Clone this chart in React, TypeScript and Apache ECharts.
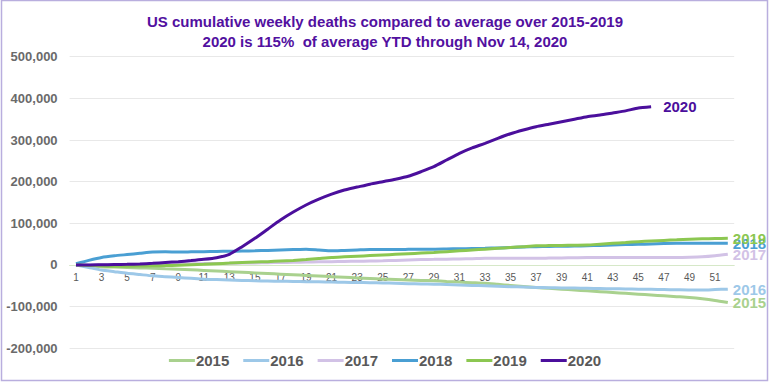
import React, { useEffect, useRef } from "react";
import * as echarts from "echarts";

const weeks: string[] = Array.from({ length: 52 }, (_, i) => String(i + 1));

const s2015 = [0, -2000, -4000, -5000, -6000, -7000, -8000, -9000, -10000, -11500, -13000, -14500, -16000, -17500, -19000, -20500, -22000, -23500, -25000, -26500, -28000, -29500, -31000, -32500, -34000, -35000, -36000, -37000, -38000, -39500, -41000, -42500, -44000, -46500, -49000, -51500, -54000, -56000, -58000, -60000, -62000, -64000, -66000, -68000, -70000, -72000, -74000, -76000, -78000, -81000, -85000, -90000];
const s2016 = [0, -6000, -12000, -16000, -20000, -23000, -26000, -28000, -30000, -32000, -34000, -35000, -36000, -37000, -38000, -38500, -39000, -39500, -40000, -40500, -41000, -41500, -42000, -42500, -43000, -44000, -45000, -45500, -46000, -47000, -48000, -49000, -50000, -51000, -52000, -53000, -54000, -54500, -55000, -55500, -56000, -56500, -57000, -57500, -58000, -58500, -59000, -59500, -60000, -60000, -59000, -58000];
const s2017 = [0, 0, 500, 1000, 1500, 2000, 2000, 2500, 3000, 3000, 3500, 3500, 4000, 4500, 5000, 5500, 6000, 6500, 7000, 7500, 8000, 8500, 9000, 9500, 10000, 11000, 12000, 13000, 13500, 14000, 14500, 15000, 16000, 16000, 16000, 16000, 16000, 16500, 17000, 17500, 18000, 18000, 18000, 18000, 18000, 18000, 18000, 18000, 18500, 19500, 22000, 25600];
const s2018 = [3000, 11000, 18000, 22000, 25000, 28000, 31000, 31500, 31000, 31500, 32000, 32500, 33000, 33500, 34000, 35000, 36000, 37000, 38000, 36000, 34000, 35000, 36000, 37000, 37000, 37000, 37500, 38000, 38000, 38500, 39000, 39500, 40000, 41000, 42000, 43000, 44000, 44500, 45000, 45500, 46000, 47000, 48000, 49000, 49500, 50500, 51500, 52000, 52000, 52000, 52000, 52000];
const s2019 = [0, -1000, -2000, -3000, -3000, -2500, -2000, -1500, -500, 500, 1500, 3000, 4500, 6000, 7000, 8000, 9500, 11000, 13000, 15500, 18000, 19500, 21000, 22500, 24000, 25500, 27000, 28500, 30000, 32000, 34000, 36000, 38000, 40000, 42000, 44000, 46000, 46500, 47000, 47500, 48000, 50000, 52000, 54000, 56000, 57500, 59000, 60500, 62000, 63000, 63500, 64000];
const s2020 = [0, 0, 500, 1000, 1500, 2500, 4000, 6000, 8000, 10500, 13500, 17500, 25500, 44000, 64000, 86000, 108000, 127000, 144000, 158000, 170000, 180000, 187000, 194000, 200000, 206000, 213000, 224000, 236000, 252000, 268000, 281000, 292000, 304000, 315000, 324000, 332000, 338000, 344000, 350000, 356000, 360000, 365000, 370000, 377000, 380000];

const seriesNames = ["2015", "2016", "2017", "2018", "2019", "2020"];
const seriesData = [s2015, s2016, s2017, s2018, s2019, s2020];
const colors = ["#a9d18e", "#9dc8e8", "#d2c2e6", "#4a9fd3", "#8cc751", "#4b0f9c"];

const titleText = "US cumulative weekly deaths compared to average over 2015-2019\n2020 is 115%  of average YTD through Nov 14, 2020";

const yMin = -200000;
const yMax = 500000;
const yStep = 100000;

export default function App() {
  const ref = useRef<HTMLDivElement>(null);
  useEffect(() => {
    document.body.style.margin = "0";
    const chart = echarts.init(ref.current!, null, { renderer: "svg" });
    const gridTop = 56.7;
    const gridBottom = 33.7;
    const plotH = 382 - gridTop - gridBottom;
    const zeroOffset = -plotH * (0 - yMin) / (yMax - yMin);
    chart.setOption({
      animation: false,
      backgroundColor: "#ffffff",
      color: colors,
      title: {
        text: titleText,
        left: "center",
        top: 6,
        textStyle: {
          fontFamily: "Liberation Sans, Arial, sans-serif",
          fontSize: 15,
          fontWeight: "bold",
          color: "#5210a0",
          lineHeight: 20,
        },
      },
      legend: {
        bottom: 9,
        left: "center",
        icon: "rect",
        itemWidth: 26,
        itemHeight: 3,
        itemGap: 14,
        textStyle: {
          fontFamily: "Liberation Sans, Arial, sans-serif",
          fontSize: 15,
          fontWeight: "bold",
          color: "#595959",
          padding: [0, 0, 0, -4],
        },
        data: seriesNames,
      },
      grid: { left: 69.6, right: 35.8, top: gridTop, bottom: gridBottom },
      xAxis: {
        type: "category",
        data: weeks,
        boundaryGap: true,
        position: "bottom",
        offset: zeroOffset,
        axisLine: { onZero: false, lineStyle: { color: "#d6e8c8", width: 1 } },
        axisTick: { show: false },
        axisLabel: {
          interval: 1,
          fontSize: 10,
          color: "#595959",
          margin: 8,
          fontFamily: "Liberation Sans, Arial, sans-serif",
        },
        splitLine: { show: false },
      },
      yAxis: {
        type: "value",
        min: yMin,
        max: yMax,
        interval: yStep,
        axisLine: { show: false },
        axisTick: { show: false },
        axisLabel: {
          fontSize: 13,
          fontWeight: "bold",
          color: "#6a6a6a",
          margin: 12,
          fontFamily: "Liberation Sans, Arial, sans-serif",
          formatter: (v: number) => v.toLocaleString("en-US"),
        },
        splitLine: { lineStyle: { color: "#e8e8e8", width: 1 } },
      },
      series: seriesNames.map((name, i) => ({
        name,
        type: "line",
        data: seriesData[i],
        symbol: "none",
        smooth: 0.2,
        z: i === 5 ? 10 : 2 + i,
        lineStyle: { width: 3, color: colors[i] },
        itemStyle: { color: colors[i] },
        endLabel: {
          show: true,
          formatter: name,
          distance: i === 5 ? 12 : 5,
          fontFamily: "Liberation Sans, Arial, sans-serif",
          fontSize: 15,
          fontWeight: "bold",
          color: colors[i],
        },
      })),
      graphic: [
        {
          type: "rect",
          shape: { x: 1.5, y: 0.5, width: 766, height: 380 },
          style: { fill: "none", stroke: "#b9aede", lineWidth: 1.5 },
          silent: true,
        },
      ],
    });
    return () => chart.dispose();
  }, []);
  return <div ref={ref} style={{ width: 770, height: 382 }} />;
}
